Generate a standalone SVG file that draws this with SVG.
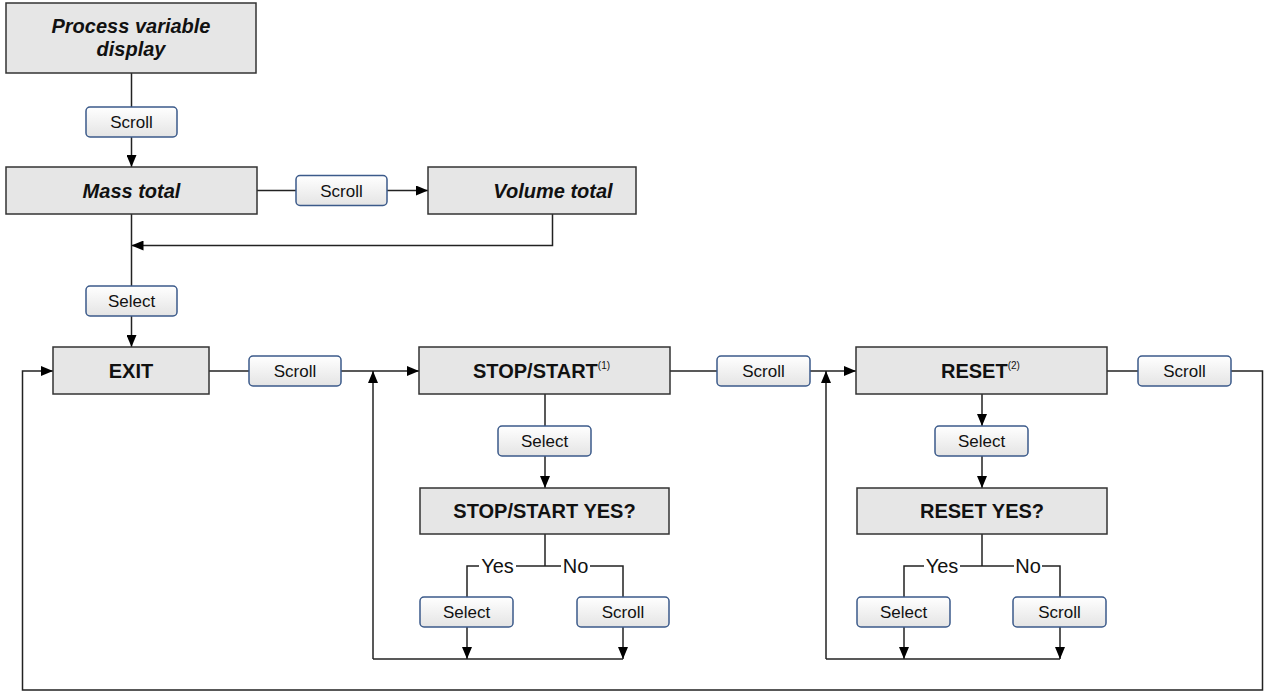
<svg xmlns="http://www.w3.org/2000/svg" width="1264" height="692" viewBox="0 0 1264 692">
  <defs>
    <linearGradient id="btnFill" x1="0" y1="0" x2="0" y2="1">
      <stop offset="0" stop-color="#ffffff"/>
      <stop offset="1" stop-color="#e4e4e4"/>
    </linearGradient>
    <marker id="arrow" viewBox="0 0 12 10" refX="12" refY="5" markerWidth="12" markerHeight="10" markerUnits="userSpaceOnUse" orient="auto">
      <path d="M0,0 L12,5 L0,10 z" fill="#000"/>
    </marker>
    <style>
      .node rect { fill: #e6e6e6; stroke: #333; stroke-width: 1.5; }
      .node text { font-family: "Liberation Sans", Arial, sans-serif; font-size: 20px; font-weight: bold; fill: #111; text-anchor: middle; }
      .node text.it { font-style: italic; }
      .node tspan.sup { font-size: 10px; font-weight: normal; }
      .btn rect { fill: url(#btnFill); stroke: #3b5a8a; stroke-width: 1.5; }
      .btn text { font-family: "Liberation Sans", Arial, sans-serif; font-size: 17px; fill: #111; text-anchor: middle; }
      .wire { fill: none; stroke: #222; stroke-width: 1.5; }
      .arr { marker-end: url(#arrow); }
      .lbl { font-family: "Liberation Sans", Arial, sans-serif; font-size: 20px; fill: #111; text-anchor: middle; }
    </style>
  </defs>

  <!-- connectors -->
  <g id="connectors">
    <path class="wire" d="M131.5,73 V107"/>
    <path class="wire arr" d="M131.5,137 V167"/>
    <path class="wire" d="M257,190.5 H296"/>
    <path class="wire arr" d="M387,190.5 H428"/>
    <path class="wire arr" d="M552.5,214 V245.5 H131.5"/>
    <path class="wire" d="M131.5,214 V286"/>
    <path class="wire arr" d="M131.5,316 V347"/>
    <path class="wire" d="M209,371 H249"/>
    <path class="wire arr" d="M341,371 H419"/>
    <path class="wire arr" d="M373,659 V371"/>
    <path class="wire" d="M545,394 V426"/>
    <path class="wire arr" d="M545,456 V488"/>
    <path class="wire" d="M545,534 V566"/>
    <path class="wire" d="M467,597 V566 H479"/>
    <path class="wire" d="M516,566 H561"/>
    <path class="wire" d="M590,566 H623 V597"/>
    <path class="wire arr" d="M467,627 V659"/>
    <path class="wire arr" d="M623,627 V659"/>
    <path class="wire" d="M373,659 H623"/>
    <path class="wire" d="M670,371 H717"/>
    <path class="wire arr" d="M810,371 H856"/>
    <path class="wire arr" d="M826,659 V371"/>
    <path class="wire arr" d="M982,394 V426"/>
    <path class="wire arr" d="M982,456 V488"/>
    <path class="wire" d="M982,534 V566"/>
    <path class="wire" d="M904,597 V566 H924"/>
    <path class="wire" d="M960,566 H1014"/>
    <path class="wire" d="M1042,566 H1060 V597"/>
    <path class="wire arr" d="M904,627 V659"/>
    <path class="wire arr" d="M1060,627 V659"/>
    <path class="wire" d="M826,659 H1060"/>
    <path class="wire" d="M1107,371 H1138"/>
    <path class="wire arr" d="M1231,371 H1262.5 V690 H22.5 V371 H53"/>
    <text class="lbl" x="497.5" y="573">Yes</text>
    <text class="lbl" x="575.5" y="573">No</text>
    <text class="lbl" x="942" y="573">Yes</text>
    <text class="lbl" x="1028" y="573">No</text>
  </g>

  <!-- menu screens -->
  <g id="pv-display" class="node">
    <rect x="6" y="3" width="250" height="70"/>
    <text class="it" x="131" y="33">Process variable</text>
    <text class="it" x="131" y="56">display</text>
  </g>
  <g id="mass-total" class="node">
    <rect x="6" y="167" width="251" height="47"/>
    <text class="it" x="131.5" y="197.5">Mass total</text>
  </g>
  <g id="volume-total" class="node">
    <rect x="428" y="167" width="208" height="47"/>
    <text class="it" x="553" y="197.5">Volume total</text>
  </g>
  <g id="exit" class="node">
    <rect x="53" y="347" width="156" height="47"/>
    <text x="131" y="377.5">EXIT</text>
  </g>
  <g id="stop-start" class="node">
    <rect x="419" y="347" width="251" height="47"/>
    <text x="473" y="377.5" style="text-anchor:start">STOP/START<tspan class="sup" dy="-9">(1)</tspan></text>
  </g>
  <g id="stop-start-yes" class="node">
    <rect x="420" y="488" width="249" height="46"/>
    <text x="544.5" y="518">STOP/START YES?</text>
  </g>
  <g id="reset" class="node">
    <rect x="856" y="347" width="251" height="47"/>
    <text x="941" y="377.5" style="text-anchor:start">RESET<tspan class="sup" dy="-9">(2)</tspan></text>
  </g>
  <g id="reset-yes" class="node">
    <rect x="857" y="488" width="250" height="46"/>
    <text x="982" y="518">RESET YES?</text>
  </g>

  <!-- keys -->
  <g id="key-scroll-1" class="btn"><rect x="86" y="107" width="91" height="30" rx="4"/><text x="131.5" y="128">Scroll</text></g>
  <g id="key-scroll-2" class="btn"><rect x="296" y="175.5" width="91" height="30" rx="4"/><text x="341.5" y="196.5">Scroll</text></g>
  <g id="key-select-1" class="btn"><rect x="86" y="286" width="91" height="30" rx="4"/><text x="131.5" y="307">Select</text></g>
  <g id="key-scroll-3" class="btn"><rect x="249" y="356" width="92" height="30" rx="4"/><text x="295" y="377">Scroll</text></g>
  <g id="key-select-2" class="btn"><rect x="498" y="426" width="93" height="30" rx="4"/><text x="544.5" y="447">Select</text></g>
  <g id="key-scroll-4" class="btn"><rect x="717" y="356" width="93" height="30" rx="4"/><text x="763.5" y="377">Scroll</text></g>
  <g id="key-select-3" class="btn"><rect x="420" y="597" width="93" height="30" rx="4"/><text x="466.5" y="618">Select</text></g>
  <g id="key-scroll-5" class="btn"><rect x="577" y="597" width="92" height="30" rx="4"/><text x="623" y="618">Scroll</text></g>
  <g id="key-select-4" class="btn"><rect x="935" y="426" width="93" height="30" rx="4"/><text x="981.5" y="447">Select</text></g>
  <g id="key-scroll-6" class="btn"><rect x="1138" y="356" width="93" height="30" rx="4"/><text x="1184.5" y="377">Scroll</text></g>
  <g id="key-select-5" class="btn"><rect x="857" y="597" width="93" height="30" rx="4"/><text x="903.5" y="618">Select</text></g>
  <g id="key-scroll-7" class="btn"><rect x="1013" y="597" width="93" height="30" rx="4"/><text x="1059.5" y="618">Scroll</text></g>
</svg>
